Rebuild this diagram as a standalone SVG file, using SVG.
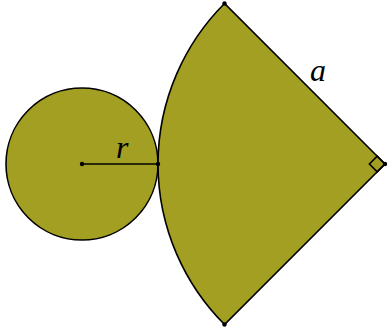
<svg xmlns="http://www.w3.org/2000/svg" width="388" height="336" viewBox="0 0 388 336">
<style>
.shape{fill:#a29f22;stroke:#000;stroke-width:1.6}
.ln{fill:none;stroke:#000;stroke-width:1.6}
.dot{fill:#000}
.lbl{font-family:"Liberation Serif",serif;font-style:italic;font-size:32px;fill:#000}
</style>
<rect width="388" height="336" fill="#fff"/>
<g id="circle">
<circle class="shape" cx="82" cy="164" r="76"/>
</g>
<g id="sector">
<path class="shape" d="M385,164 L224.5,3.5 A227,227 0 0 0 224.5,324.5 Z"/>
<path class="ln" d="M385,164 L377.2,156.2 L369.4,164 L377.2,171.8 Z"/>
</g>
<g id="connectors">
<line class="ln" x1="82" y1="164" x2="158" y2="164"/>
</g>
<g id="dots">
<circle class="dot" cx="82" cy="164" r="2.2"/>
<circle class="dot" cx="158" cy="164" r="2.2"/>
<circle class="dot" cx="385" cy="164" r="2.2"/>
<circle class="dot" cx="224.5" cy="3.5" r="2.2"/>
<circle class="dot" cx="224.5" cy="324.5" r="2.2"/>
</g>
<g id="labels">
<text class="lbl" x="116" y="158">r</text>
<text class="lbl" x="310" y="81">a</text>
</g>
</svg>
